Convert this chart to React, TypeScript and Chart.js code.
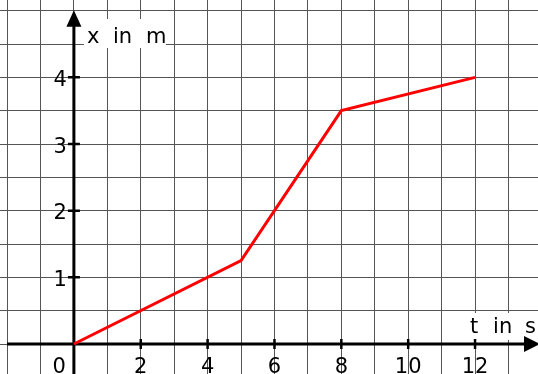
import React, { useEffect, useRef } from 'react';
import { Chart, registerables } from 'chart.js';

Chart.register(...registerables);

// ---- data ----
const timeS = [0, 5, 8, 12];
const positionM = [0, 1.25, 3.5, 4];

const tGridValues = [-2, -1, 0, 1, 2, 3, 4, 5, 6, 7, 8, 9, 10, 11, 12, 13];
const xGridValues = [0, 0.5, 1, 1.5, 2, 2.5, 3, 3.5, 4, 4.5, 5];

const tTickLabels = [2, 4, 6, 8, 10, 12];
const xTickLabels = [1, 2, 3, 4];
const originLabel = '0';
const yTitleWords = ['x', 'in', 'm'];
const xTitleWords = ['t', 'in', 's'];

const FONT = '21px "DejaVu Sans", Verdana, sans-serif';

const axesPlugin = {
  id: 'physAxes',
  beforeDatasetsDraw(chart: any) {
    const ctx = chart.ctx as CanvasRenderingContext2D;
    const xs = chart.scales.x;
    const ys = chart.scales.y;
    const W = chart.width;
    const H = chart.height;
    const ox = xs.getPixelForValue(0);
    const oy = ys.getPixelForValue(0);
    const left = xs.getPixelForValue(tGridValues[0]);
    const top = ys.getPixelForValue(xGridValues[xGridValues.length - 1]);
    const yTitleY = ys.getPixelForValue(4.5);
    const t12 = xs.getPixelForValue(12);

    ctx.save();
    // white label boxes
    ctx.fillStyle = '#ffffff';
    ctx.fillRect(ox + 10, yTitleY - 25, 82, 29);
    ctx.fillRect(t12 - 9, oy - 31, W - (t12 - 9), 27);

    // axes
    ctx.strokeStyle = '#000';
    ctx.fillStyle = '#000';
    ctx.lineWidth = 3;
    ctx.beginPath();
    ctx.moveTo(ox, H + 2);
    ctx.lineTo(ox, top + 12);
    ctx.moveTo(left, oy);
    ctx.lineTo(W - 10, oy);
    ctx.stroke();

    // arrows
    ctx.beginPath();
    ctx.moveTo(ox, top - 0.5);
    ctx.lineTo(ox - 7.5, top + 16);
    ctx.lineTo(ox + 7.5, top + 16);
    ctx.closePath();
    ctx.fill();
    ctx.beginPath();
    ctx.moveTo(W + 2, oy);
    ctx.lineTo(W - 14, oy - 8);
    ctx.lineTo(W - 14, oy + 8);
    ctx.closePath();
    ctx.fill();

    // tick marks
    ctx.lineWidth = 2.5;
    ctx.beginPath();
    for (const v of xTickLabels) {
      const py = ys.getPixelForValue(v);
      ctx.moveTo(ox - 6, py);
      ctx.lineTo(ox + 6, py);
    }
    for (const v of tTickLabels) {
      const px = xs.getPixelForValue(v);
      ctx.moveTo(px, oy - 5);
      ctx.lineTo(px, oy + 5);
    }
    ctx.stroke();

    // tick labels
    ctx.font = FONT;
    ctx.textBaseline = 'alphabetic';
    ctx.textAlign = 'right';
    for (const v of xTickLabels) {
      const py = ys.getPixelForValue(v);
      ctx.fillText(String(v), ox - 7, py + 8.5);
    }
    ctx.fillText(originLabel, ox - 8, oy + 29);
    ctx.textAlign = 'center';
    for (const v of tTickLabels) {
      const px = xs.getPixelForValue(v);
      ctx.fillText(String(v), px, oy + 29);
    }

    // axis titles
    ctx.textAlign = 'left';
    const yOffsets = [13, 39, 72];
    yTitleWords.forEach((w, i) => ctx.fillText(w, ox + yOffsets[i], yTitleY - 1));
    const xOffsets = [-5, 18, 50];
    xTitleWords.forEach((w, i) => ctx.fillText(w, t12 + xOffsets[i], oy - 11));
    ctx.restore();
  },
};

export default function App() {
  const ref = useRef<HTMLCanvasElement>(null);
  useEffect(() => {
    if (!ref.current) return;
    const chart = new Chart(ref.current, {
      type: 'scatter',
      data: {
        datasets: [
          {
            data: timeS.map((t, i) => ({ x: t, y: positionM[i] })),
            showLine: true,
            borderColor: '#ff0000',
            borderWidth: 3,
            pointRadius: 0,
            fill: false,
            tension: 0,
          },
        ],
      },
      options: {
        animation: false,
        responsive: false,
        devicePixelRatio: 1,
        layout: { padding: 0 },
        plugins: { legend: { display: false }, tooltip: { enabled: false } },
        scales: {
          x: {
            type: 'linear',
            min: -2.2106,
            max: 13.883,
            border: { display: false },
            grid: { color: '#555', lineWidth: 1, drawTicks: false },
            ticks: { display: false },
            afterBuildTicks: (s: any) => {
              s.ticks = tGridValues.map((v) => ({ value: v }));
            },
          },
          y: {
            type: 'linear',
            min: -0.45,
            max: 5.16,
            border: { display: false },
            grid: { color: '#555', lineWidth: 1, drawTicks: false },
            ticks: { display: false },
            afterBuildTicks: (s: any) => {
              s.ticks = xGridValues.map((v) => ({ value: v }));
            },
          },
        },
      },
      plugins: [axesPlugin],
    });
    return () => chart.destroy();
  }, []);
  return (
    <div style={{ position: 'fixed', left: 0, top: 0, width: 538, height: 374, background: '#fff' }}>
      <canvas ref={ref} width={538} height={374} style={{ display: 'block' }} />
    </div>
  );
}
